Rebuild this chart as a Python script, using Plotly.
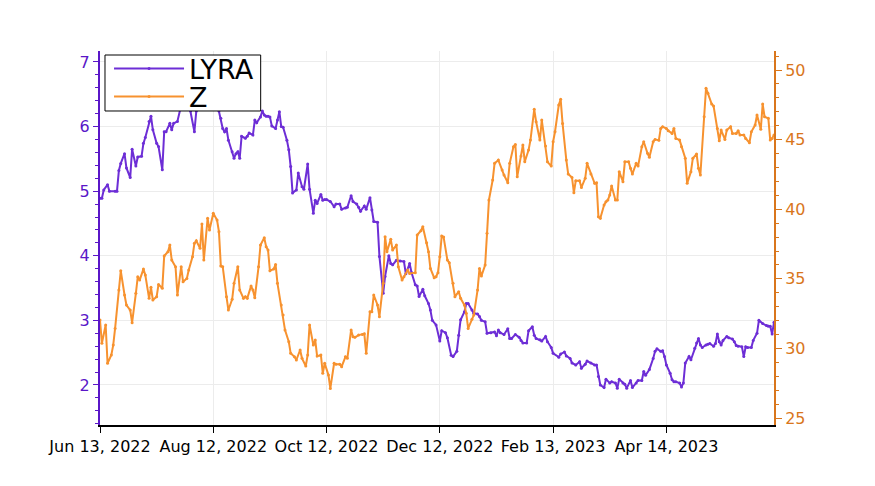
import plotly.graph_objects as go

# day offsets (trading-day index from Jun 13, 2022) and values
lyra_day = [0, 1, 2, 4, 5, 8, 9, 10, 11, 13, 14, 16, 17, 19, 20, 22, 23, 24, 26, 27, 28, 30, 31, 33, 34, 35, 37, 38, 39, 41,
            43, 44, 45, 46, 48, 50, 51, 52, 53, 55, 56, 58, 59, 61, 63, 64, 65, 66, 67, 68, 70, 71, 72, 73, 74, 75, 77, 78, 79, 81,
            82, 83, 85, 86, 87, 88, 89, 90, 91, 93, 94, 95, 96, 97, 99, 100, 101, 102, 104, 105, 107, 108, 110, 111, 113, 114, 115, 117, 118, 119,
            120, 122, 124, 125, 127, 128, 130, 131, 133, 134, 136, 137, 138, 140, 141, 143, 144, 145, 147, 148, 150, 151, 153, 154, 155, 157, 159, 161, 162, 164,
            165, 167, 168, 169, 171, 172, 174, 175, 176, 178, 180, 181, 183, 184, 186, 187, 189, 190, 191, 193, 194, 195, 197, 198, 200, 201, 202, 204, 205, 207,
            209, 210, 211, 212, 214, 216, 217, 218, 220, 222, 223, 224, 226, 227, 229, 230, 231, 233, 234, 236, 237, 239, 240, 243, 244, 246, 247, 249, 250, 252,
            254, 255, 257, 258, 260, 262, 263, 264, 265, 267, 268, 270, 271, 273, 274, 275, 277, 278, 279, 281, 282, 284, 285, 287, 288, 289, 291, 293, 294, 295,
            297, 298, 299, 300, 302, 303, 304, 305, 307, 308, 309, 310, 312, 313, 315, 316, 317, 318, 319, 321, 322, 323, 325, 326, 327, 328, 329, 330, 332, 333,
            335, 336, 337, 338, 340, 341, 342, 343, 345, 346, 348, 349, 351, 353, 354, 355, 356, 357]
lyra = [4.89, 4.89, 5.02, 5.10, 5.00, 5.00, 5.00, 5.32, 5.43, 5.58, 5.36, 5.21, 5.65, 5.39, 5.53, 5.54, 5.74, 5.83, 6.08, 6.16, 5.95, 5.74, 5.69, 5.33, 5.92, 5.92, 6.05, 5.95, 6.05, 6.08,
        6.33, 6.45, 6.60, 6.52, 6.24, 5.92, 6.24, 6.45, 6.62, 6.50, 6.70, 6.78, 6.60, 6.50, 6.24, 6.13, 5.97, 5.92, 5.97, 5.79, 5.61, 5.51, 5.58, 5.61, 5.51, 5.85, 5.82, 5.85, 5.90, 5.87,
        6.10, 6.06, 6.15, 6.24, 6.18, 6.16, 6.16, 6.15, 6.01, 5.97, 6.10, 6.23, 6.00, 5.99, 5.79, 5.64, 5.38, 4.97, 5.02, 5.28, 5.07, 5.03, 5.42, 5.03, 4.66, 4.86, 4.81, 4.95, 4.86, 4.87,
        4.87, 4.84, 4.76, 4.80, 4.80, 4.72, 4.74, 4.75, 4.93, 4.84, 4.80, 4.75, 4.69, 4.77, 4.72, 4.90, 4.71, 4.53, 4.52, 3.99, 3.42, 3.68, 4.00, 3.88, 3.86, 3.93, 3.92, 3.91, 3.72, 3.88,
        3.74, 3.55, 3.53, 3.37, 3.48, 3.38, 3.26, 3.16, 3.00, 2.93, 2.68, 2.84, 2.81, 2.73, 2.46, 2.44, 2.52, 2.77, 3.01, 3.13, 3.26, 3.26, 3.16, 3.11, 3.10, 3.06, 3.00, 2.98, 2.80, 2.81,
        2.82, 2.76, 2.85, 2.81, 2.78, 2.87, 2.72, 2.72, 2.78, 2.74, 2.69, 2.65, 2.65, 2.84, 2.90, 2.77, 2.72, 2.70, 2.68, 2.75, 2.67, 2.58, 2.49, 2.43, 2.48, 2.51, 2.45, 2.41, 2.34, 2.31,
        2.36, 2.26, 2.32, 2.37, 2.34, 2.31, 2.31, 2.13, 2.00, 1.96, 2.09, 2.03, 2.05, 2.03, 1.95, 2.09, 2.03, 2.01, 1.95, 2.07, 1.96, 2.03, 2.07, 2.07, 2.21, 2.15, 2.24, 2.41, 2.52, 2.56,
        2.52, 2.53, 2.44, 2.31, 2.18, 2.08, 2.05, 2.05, 2.03, 1.97, 2.03, 2.34, 2.44, 2.39, 2.57, 2.65, 2.72, 2.62, 2.58, 2.62, 2.63, 2.64, 2.60, 2.64, 2.79, 2.67, 2.62, 2.69, 2.75, 2.73,
        2.71, 2.67, 2.61, 2.60, 2.59, 2.44, 2.59, 2.58, 2.58, 2.69, 2.80, 3.00, 2.95, 2.92, 2.91, 2.91, 2.79, 2.97]

z_day = [0, 1, 3, 4, 6, 7, 8, 10, 11, 13, 14, 16, 17, 19, 20, 21, 23, 24, 26, 27, 28, 30, 31, 33, 34, 36, 37, 38, 40, 41,
         43, 44, 46, 47, 49, 50, 51, 53, 54, 55, 57, 58, 60, 62, 63, 64, 65, 67, 68, 70, 71, 73, 74, 76, 77, 78, 80, 81, 82, 84,
         85, 87, 88, 89, 90, 92, 93, 94, 96, 97, 98, 100, 101, 103, 104, 106, 107, 109, 110, 111, 113, 114, 115, 117, 118, 119, 121, 122, 124, 125,
         127, 128, 130, 131, 133, 134, 135, 137, 139, 140, 141, 143, 144, 145, 147, 148, 150, 151, 152, 154, 155, 157, 158, 160, 161, 163, 164, 167, 168, 170,
         171, 173, 174, 175, 177, 178, 179, 180, 181, 182, 184, 185, 187, 188, 190, 191, 193, 194, 195, 197, 198, 200, 201, 202, 204, 205, 206, 208, 209, 211,
         213, 214, 216, 217, 219, 220, 221, 223, 224, 225, 227, 228, 230, 231, 233, 234, 236, 237, 239, 240, 241, 243, 244, 245, 247, 248, 250, 251, 252, 254,
         255, 257, 258, 260, 262, 263, 264, 265, 267, 268, 269, 270, 271, 273, 274, 275, 277, 278, 280, 281, 282, 284, 285, 287, 288, 290, 291, 293, 294, 296,
         297, 298, 300, 301, 303, 304, 305, 307, 308, 310, 311, 313, 314, 316, 317, 318, 320, 321, 322, 324, 325, 327, 328, 329, 331, 332, 334, 335, 337, 338,
         339, 341, 342, 344, 345, 347, 348, 350, 351, 352, 354, 355, 356, 357]
z = [32.04, 30.37, 31.68, 28.93, 29.53, 30.24, 31.44, 34.20, 35.58, 33.84, 33.12, 32.76, 31.85, 33.96, 35.15, 34.91, 35.70, 35.27, 33.60, 34.39, 33.48, 33.72, 34.60, 34.32, 36.64, 36.95, 37.43, 36.35, 35.87, 33.84,
     35.87, 34.79, 35.03, 35.63, 36.59, 37.55, 37.74, 37.19, 38.94, 36.35, 39.35, 38.51, 39.71, 39.22, 38.39, 35.92, 35.87, 33.72, 32.76, 33.53, 34.68, 35.87, 34.20, 33.60, 33.72, 33.60, 34.48, 34.20, 33.65, 35.87,
     37.43, 37.95, 37.31, 37.07, 35.58, 35.70, 36.04, 34.68, 33.12, 32.40, 31.32, 30.48, 29.65, 29.40, 29.17, 29.89, 29.29, 28.74, 29.53, 31.68, 30.24, 30.60, 29.45, 29.53, 28.21, 28.93, 28.09, 27.13, 28.93, 28.86,
     28.86, 28.69, 29.40, 29.29, 31.32, 30.84, 30.80, 30.96, 31.00, 31.05, 29.65, 32.64, 32.64, 33.84, 33.12, 32.28, 34.68, 38.03, 36.95, 37.84, 37.07, 37.43, 35.87, 34.91, 35.15, 35.63, 35.39, 35.44, 38.15, 38.46,
     38.74, 37.60, 36.95, 35.75, 35.08, 35.15, 35.44, 36.59, 38.07, 38.00, 36.35, 36.16, 34.68, 33.72, 34.08, 33.60, 33.12, 32.52, 31.44, 32.09, 32.40, 34.20, 35.75, 35.20, 35.99, 38.27, 40.66, 42.10, 43.30, 43.53,
     42.82, 42.46, 41.91, 43.30, 44.49, 44.66, 42.34, 43.82, 44.62, 43.41, 44.25, 44.97, 47.18, 46.29, 44.97, 46.41, 44.54, 43.41, 43.10, 44.85, 45.57, 47.49, 47.90, 46.17, 43.53, 42.53, 42.29, 41.19, 42.05, 42.05,
     41.57, 42.22, 43.30, 42.53, 41.86, 41.90, 39.46, 39.35, 40.30, 40.54, 40.66, 41.02, 41.67, 40.66, 40.66, 42.70, 41.98, 43.41, 43.41, 42.94, 42.53, 43.30, 43.10, 44.49, 44.85, 44.02, 43.73, 44.85, 45.02, 44.95,
     45.81, 45.93, 45.80, 45.64, 45.45, 45.81, 45.09, 44.97, 44.49, 43.66, 41.86, 42.70, 43.66, 43.97, 42.94, 42.46, 46.65, 48.69, 48.33, 47.56, 47.41, 45.81, 44.92, 45.69, 45.02, 45.69, 45.93, 45.45, 45.45, 45.64,
     45.33, 45.33, 45.09, 44.78, 45.57, 46.05, 46.77, 45.74, 47.56, 46.65, 46.53, 44.97, 45.09, 45.33]

tick_days = [0, 60, 120, 180, 240, 300]
tick_labels = ["Jun 13, 2022", "Aug 12, 2022", "Oct 12, 2022", "Dec 12, 2022", "Feb 13, 2023", "Apr 14, 2023"]

lyra_color = "#6d2ed6"
lyra_axis = "#5a17c8"
z_color = "#f7922f"
z_axis = "#d9761c"

fig = go.Figure()
fig.add_trace(go.Scatter(x=lyra_day, y=lyra, name="LYRA", mode="lines+markers", legend="legend",
                         line=dict(color=lyra_color, width=2),
                         marker=dict(size=3, color=lyra_color)))
fig.add_trace(go.Scatter(x=z_day, y=z, name="Z", mode="lines+markers", yaxis="y2", legend="legend2",
                         line=dict(color=z_color, width=2),
                         marker=dict(size=3, color=z_color)))

# one legend per series so the rows sit as tightly as in the original; a shape gives the shared frame
leg = dict(xanchor="left", yanchor="middle", bgcolor="rgba(0,0,0,0)", borderwidth=0,
           font=dict(size=27, color="black"), itemwidth=70)
fig.add_shape(type="rect", xref="paper", yref="paper", x0=0.0074, x1=0.2384, y0=0.8396, y1=0.9893,
              line=dict(color="black", width=1), fillcolor="white", layer="above")

fig.update_layout(
    width=875, height=486,
    margin=dict(l=92, r=109, t=43, b=69),
    paper_bgcolor="white", plot_bgcolor="white",
    font=dict(family="DejaVu Sans", size=16, color="black"),
    showlegend=True,
    legend=dict(leg, x=0.0134, y=0.952),
    legend2=dict(leg, x=0.0134, y=0.877),
    xaxis=dict(range=[0, 357], tickvals=tick_days, ticktext=tick_labels,
               showline=True, linecolor="black", linewidth=2,
               ticks="outside", ticklen=6, tickcolor="black",
               showgrid=True, gridcolor="#ececec", zeroline=False),
    yaxis=dict(range=[1.38, 7.17], dtick=1, color=lyra_axis,
               showline=True, linecolor=lyra_axis, linewidth=2,
               ticks="outside", ticklen=5, tickcolor=lyra_axis,
               minor=dict(dtick=0.2, ticks="outside", ticklen=3, tickcolor=lyra_axis, showgrid=False),
               showgrid=True, gridcolor="#ececec", zeroline=False),
    yaxis2=dict(range=[24.5, 51.37], dtick=5, overlaying="y", side="right", color=z_axis,
                showline=True, linecolor=z_axis, linewidth=2,
                ticks="outside", ticklen=6, tickcolor=z_axis,
                minor=dict(dtick=1, ticks="outside", ticklen=3, tickcolor=z_axis, showgrid=False),
                showgrid=False, zeroline=False),
)

fig.write_html("out.html")
